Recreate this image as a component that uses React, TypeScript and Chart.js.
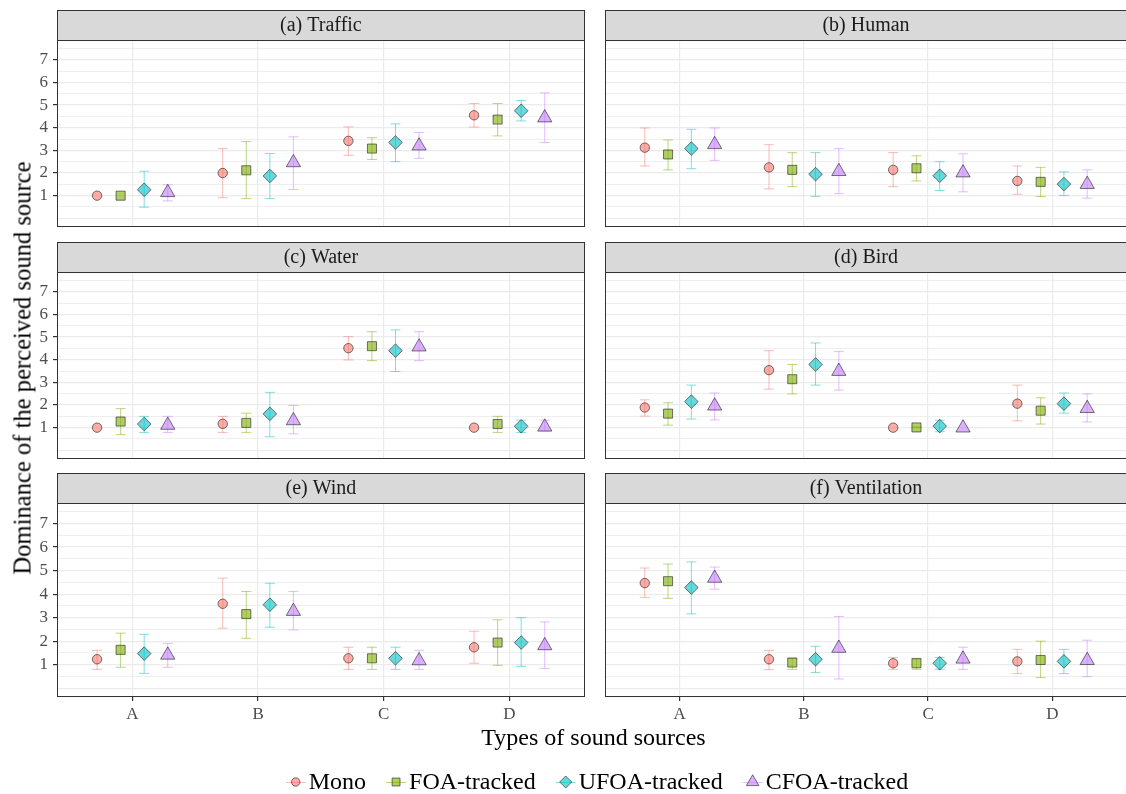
import React, { useEffect, useRef } from "react";
import { Chart, registerables } from "chart.js";
import { drawPoint } from "chart.js/helpers";

Chart.register(...registerables);

// ---------------- data ----------------
const CATEGORIES = ["A", "B", "C", "D"];
const SERIES = ["Mono", "FOA-tracked", "UFOA-tracked", "CFOA-tracked"];
const PANEL_TITLES = ["(a) Traffic", "(b) Human", "(c) Water", "(d) Bird", "(e) Wind", "(f) Ventilation"];
const Y_TICK_LABELS = [1, 2, 3, 4, 5, 6, 7];
const Y_GRID_VALUES = [0, 0.5, 1, 1.5, 2, 2.5, 3, 3.5, 4, 4.5, 5, 5.5, 6, 6.5, 7, 7.5];
const X_TITLE = "Types of sound sources";
const Y_TITLE = "Dominance of the perceived sound source";

// rows = series (Mono, FOA, UFOA, CFOA); columns = categories A..D
const trafficMean = [[1.0, 2.0, 3.42, 4.55], [1.0, 2.12, 3.08, 4.36], [1.26, 1.87, 3.35, 4.75], [1.14, 2.46, 3.2, 4.44]];
const trafficLow = [[1.0, 0.91, 2.78, 4.03], [1.0, 0.87, 2.6, 3.64], [0.49, 0.87, 2.5, 4.3], [0.77, 1.27, 2.65, 3.35]];
const trafficHigh = [[1.0, 3.08, 4.04, 5.07], [1.0, 3.39, 3.56, 5.07], [2.08, 2.86, 4.17, 5.2], [1.48, 3.6, 3.79, 5.54]];

const humanMean = [[3.12, 2.25, 2.14, 1.65], [2.82, 2.14, 2.21, 1.61], [3.08, 1.95, 1.88, 1.51], [3.26, 2.07, 2.01, 1.5]];
const humanLow = [[2.31, 1.3, 1.4, 1.06], [2.14, 1.4, 1.65, 0.96], [2.19, 0.97, 1.23, 1.01], [2.56, 1.09, 1.17, 0.89]];
const humanHigh = [[3.99, 3.25, 2.9, 2.31], [3.46, 2.9, 2.76, 2.25], [3.93, 2.9, 2.5, 2.05], [3.99, 3.08, 2.85, 2.14]];

const waterMean = [[1.0, 1.17, 4.51, 1.0], [1.27, 1.21, 4.6, 1.16], [1.16, 1.61, 4.4, 1.06], [1.11, 1.31, 4.57, 1.03]];
const waterLow = [[1.0, 0.79, 3.99, 1.0], [0.69, 0.79, 3.96, 0.79], [0.79, 0.6, 3.48, 0.79], [0.79, 0.73, 3.96, 0.86]];
const waterHigh = [[1.0, 1.5, 5.02, 1.0], [1.84, 1.64, 5.24, 1.5], [1.5, 2.56, 5.32, 1.33], [1.5, 1.98, 5.24, 1.33]];

const birdMean = [[1.89, 3.54, 1.0, 2.06], [1.62, 3.14, 1.01, 1.75], [2.15, 3.79, 1.07, 2.06], [1.96, 3.49, 0.99, 1.85]];
const birdLow = [[1.51, 2.7, 1.0, 1.3], [1.11, 2.49, 1.0, 1.16], [1.38, 2.88, 0.82, 1.64], [1.34, 2.66, 0.99, 1.25]];
const birdHigh = [[2.23, 4.4, 1.0, 2.88], [2.1, 3.79, 1.03, 2.32], [2.88, 4.74, 1.33, 2.53], [2.53, 4.36, 0.99, 2.49]];

const windMean = [[1.23, 3.59, 1.27, 1.74], [1.63, 3.15, 1.27, 1.94], [1.47, 3.55, 1.27, 1.94], [1.41, 3.27, 1.17, 1.81]];
const windLow = [[0.8, 2.55, 0.8, 1.06], [0.89, 2.12, 0.8, 0.97], [0.63, 2.59, 0.8, 0.93], [0.89, 2.48, 0.8, 0.84]];
const windHigh = [[1.61, 4.68, 1.74, 2.42], [2.34, 4.11, 1.74, 2.91], [2.29, 4.46, 1.74, 3.0], [1.91, 4.11, 1.61, 2.82]];

const ventilationMean = [[4.47, 1.23, 1.06, 1.14], [4.55, 1.09, 1.06, 1.2], [4.28, 1.23, 1.06, 1.14], [4.68, 1.7, 1.24, 1.18]];
const ventilationLow = [[3.86, 0.79, 0.8, 0.62], [3.82, 0.8, 0.8, 0.45], [3.16, 0.67, 0.8, 0.62], [4.21, 0.39, 0.8, 0.49]];
const ventilationHigh = [[5.11, 1.61, 1.31, 1.65], [5.28, 1.27, 1.27, 2.0], [5.37, 1.78, 1.31, 1.65], [5.15, 3.05, 1.74, 2.04]];

const PANELS = [
  { title: PANEL_TITLES[0], mean: trafficMean, low: trafficLow, high: trafficHigh },
  { title: PANEL_TITLES[1], mean: humanMean, low: humanLow, high: humanHigh },
  { title: PANEL_TITLES[2], mean: waterMean, low: waterLow, high: waterHigh },
  { title: PANEL_TITLES[3], mean: birdMean, low: birdLow, high: birdHigh },
  { title: PANEL_TITLES[4], mean: windMean, low: windLow, high: windHigh },
  { title: PANEL_TITLES[5], mean: ventilationMean, low: ventilationLow, high: ventilationHigh },
];

// ---------------- styles ----------------
const FONT = '"Liberation Serif", "Times New Roman", serif';
const COLORS = ["248,118,109", "124,174,0", "0,191,196", "199,124,255"];
const FILL = COLORS.map((c) => `rgba(${c},0.6)`);
const BAR = COLORS.map((c) => `rgba(${c},0.5)`);
const OUTLINE = "rgba(30,30,30,0.6)";
const SHAPES = ["circle", "rect", "rectRot", "triangle"];
const RADII = [4.7, 6.4, 6.8, 8.2];
const LEGEND_RADII = [4.2, 5.6, 6.0, 7.2];
const DODGE_WIDTH = 0.75;
const CAP_WIDTH = 0.08;
const X_MIN = 0.4, X_MAX = 4.6;
const Y_MIN = -0.375, Y_MAX = 7.875;
const GRID = "#EBEBEB";
const FRAME = "#333333";
const STRIP_H = 30;
const PLOT_H = 194;
const ROW_PLOT_TOP = [40, 272, 503];
const COL_PLOT_LEFT = [57, 598];
const PLOT_W = 534;
const PAGE_W = 1126, PAGE_H = 794;

const errorBarPlugin = {
  id: "errorBars",
  beforeDatasetsDraw(chart: any) {
    const { ctx } = chart;
    const xs = chart.scales.x, ys = chart.scales.y;
    ctx.save();
    ctx.lineWidth = 1;
    chart.data.datasets.forEach((ds: any, s: number) => {
      ctx.strokeStyle = BAR[s];
      ds.data.forEach((d: any) => {
        if (d.hi - d.lo < 0.005) return;
        const px = xs.getPixelForValue(d.x);
        const half = xs.getPixelForValue(d.x + CAP_WIDTH / 2) - px;
        const yl = ys.getPixelForValue(d.lo);
        const yh = ys.getPixelForValue(d.hi);
        ctx.beginPath();
        ctx.moveTo(px, yl);
        ctx.lineTo(px, yh);
        ctx.moveTo(px - half, yl);
        ctx.lineTo(px + half, yl);
        ctx.moveTo(px - half, yh);
        ctx.lineTo(px + half, yh);
        ctx.stroke();
      });
    });
    ctx.restore();
  },
};

const framePlugin = {
  id: "frame",
  afterDraw(chart: any, _args: any, opts: any) {
    const { ctx, chartArea: a } = chart;
    ctx.save();
    // strip
    ctx.fillStyle = "#D9D9D9";
    ctx.fillRect(a.left, a.top - STRIP_H, a.right - a.left, STRIP_H);
    ctx.strokeStyle = FRAME;
    ctx.lineWidth = 1;
    ctx.strokeRect(Math.round(a.left) + 0.5, Math.round(a.top - STRIP_H) + 0.5, Math.round(a.right - a.left) - 1, STRIP_H);
    ctx.fillStyle = "#1A1A1A";
    ctx.font = `20px ${FONT}`;
    ctx.textAlign = "center";
    ctx.textBaseline = "middle";
    ctx.fillText(opts.title, (a.left + a.right) / 2, a.top - STRIP_H / 2 + 1);
    // panel border
    ctx.strokeRect(Math.round(a.left) + 0.5, Math.round(a.top) + 0.5, Math.round(a.right - a.left) - 1, Math.round(a.bottom - a.top) - 1);
    ctx.restore();
  },
};

function Panel({ idx }: { idx: number }) {
  const ref = useRef<HTMLCanvasElement>(null);
  const col = idx % 2;
  const row = Math.floor(idx / 2);
  const isLeft = col === 0;
  const isBottom = row === 2;
  const yAxisW = isLeft ? COL_PLOT_LEFT[0] : 0;
  const canvasLeft = isLeft ? 0 : COL_PLOT_LEFT[1] - 2;
  const padLeft = isLeft ? 0 : 2;
  const padRight = isLeft ? 3 : 4;
  const canvasW = yAxisW + padLeft + PLOT_W + padRight;
  const xAxisH = isBottom ? 26 : 0;
  const padTop = STRIP_H + 1;
  const padBottom = 2;
  const canvasTop = ROW_PLOT_TOP[row] - padTop;
  const canvasH = padTop + PLOT_H + xAxisH + padBottom;

  useEffect(() => {
    const p = PANELS[idx];
    const datasets = SERIES.map((name, s) => ({
      label: name,
      data: CATEGORIES.map((_c, i) => ({
        x: i + 1 + (s - (SERIES.length - 1) / 2) * (DODGE_WIDTH / SERIES.length),
        y: p.mean[s][i],
        lo: p.low[s][i],
        hi: p.high[s][i],
      })),
      pointStyle: SHAPES[s],
      pointRadius: RADII[s],
      backgroundColor: FILL[s],
      borderColor: OUTLINE,
      borderWidth: 1,
      showLine: false,
    }));
    const tickFont = { family: FONT, size: 17 };
    const chart = new Chart(ref.current as HTMLCanvasElement, {
      type: "scatter",
      data: { datasets } as any,
      options: {
        animation: false,
        responsive: false,
        maintainAspectRatio: false,
        devicePixelRatio: 1,
        events: [],
        layout: { padding: { top: padTop, bottom: padBottom, left: padLeft, right: padRight } },
        plugins: {
          legend: { display: false },
          tooltip: { enabled: false },
          frame: { title: p.title },
        } as any,
        scales: {
          x: {
            type: "linear",
            min: X_MIN,
            max: X_MAX,
            afterBuildTicks: (s: any) => {
              s.ticks = CATEGORIES.map((_c, i) => ({ value: i + 1 }));
            },
            afterFit: (s: any) => {
              s.height = xAxisH;
              s.paddingLeft = 0;
              s.paddingRight = 0;
            },
            ticks: {
              display: isBottom,
              autoSkip: false,
              maxRotation: 0,
              padding: 3,
              color: "#4D4D4D",
              font: tickFont,
              callback: (v: any) => CATEGORIES[Math.round(v) - 1] ?? "",
            },
            grid: {
              color: GRID,
              lineWidth: 1.2,
              drawTicks: isBottom,
              tickLength: 4,
              tickColor: FRAME,
            },
            border: { display: false },
          },
          y: {
            type: "linear",
            min: Y_MIN,
            max: Y_MAX,
            afterBuildTicks: (s: any) => {
              s.ticks = Y_GRID_VALUES.map((v) => ({ value: v }));
            },
            afterFit: (s: any) => {
              s.width = yAxisW;
              s.paddingTop = 0;
              s.paddingBottom = 0;
            },
            ticks: {
              display: isLeft,
              autoSkip: false,
              padding: 5,
              color: "#4D4D4D",
              font: tickFont,
              callback: (v: any) => (Y_TICK_LABELS.includes(v) ? String(v) : ""),
            },
            grid: {
              color: GRID,
              lineWidth: (c: any) => (Number.isInteger(c.tick?.value) ? 1.2 : 0.8),
              drawTicks: isLeft,
              tickLength: 4,
              tickColor: (c: any) => (Y_TICK_LABELS.includes(c.tick?.value) ? FRAME : "rgba(0,0,0,0)"),
            },
            border: { display: false },
          },
        },
      } as any,
      plugins: [errorBarPlugin, framePlugin],
    });
    return () => chart.destroy();
  }, [idx]);

  return (
    <canvas
      ref={ref}
      width={canvasW}
      height={canvasH}
      style={{ position: "absolute", left: canvasLeft, top: canvasTop, width: canvasW, height: canvasH }}
    />
  );
}

const legendPlugin = {
  id: "legendDraw",
  afterDraw(chart: any) {
    const ctx = chart.ctx;
    ctx.save();
    ctx.font = `24px ${FONT}`;
    const widths = SERIES.map((s) => ctx.measureText(s).width);
    const KEY = 20, GAP = 3, ITEM_GAP = 20;
    const total = widths.reduce((a, w) => a + KEY + GAP + w, 0) + ITEM_GAP * (SERIES.length - 1);
    let x = 597 - total / 2;
    const y = chart.height / 2;
    SERIES.forEach((name, s) => {
      ctx.strokeStyle = BAR[s];
      ctx.lineWidth = 1;
      ctx.beginPath();
      ctx.moveTo(x, Math.round(y) + 0.5);
      ctx.lineTo(x + KEY, Math.round(y) + 0.5);
      ctx.stroke();
      ctx.fillStyle = FILL[s];
      ctx.strokeStyle = OUTLINE;
      drawPoint(ctx, { pointStyle: SHAPES[s] as any, radius: LEGEND_RADII[s], rotation: 0, borderWidth: 1 }, x + KEY / 2, y);
      x += KEY + GAP;
      ctx.fillStyle = "#000";
      ctx.textAlign = "left";
      ctx.textBaseline = "middle";
      ctx.fillText(name, x, y + 1);
      x += widths[s] + ITEM_GAP;
    });
    ctx.restore();
  },
};

function Legend() {
  const ref = useRef<HTMLCanvasElement>(null);
  useEffect(() => {
    const chart = new Chart(ref.current as HTMLCanvasElement, {
      type: "scatter",
      data: { datasets: [] },
      options: {
        animation: false,
        responsive: false,
        maintainAspectRatio: false,
        devicePixelRatio: 1,
        events: [],
        plugins: { legend: { display: false }, tooltip: { enabled: false } },
        scales: { x: { display: false }, y: { display: false } },
      } as any,
      plugins: [legendPlugin],
    });
    return () => chart.destroy();
  }, []);
  return (
    <canvas ref={ref} width={PAGE_W} height={50} style={{ position: "absolute", left: 0, top: 757, width: PAGE_W, height: 50 }} />
  );
}

export default function App() {
  return (
    <div
      style={{
        position: "fixed",
        left: 0,
        top: 0,
        width: PAGE_W,
        height: PAGE_H,
        background: "#fff",
        overflow: "hidden",
        fontFamily: FONT,
      }}
    >
      {PANELS.map((_p, i) => (
        <Panel key={i} idx={i} />
      ))}
      <div
        style={{
          position: "absolute",
          left: 593.5,
          top: 737,
          transform: "translate(-50%, -50%)",
          fontSize: 24,
          lineHeight: "24px",
          whiteSpace: "nowrap",
          color: "#000",
        }}
      >
        {X_TITLE}
      </div>
      <div
        style={{
          position: "absolute",
          left: 22,
          top: 368,
          transform: "translate(-50%, -50%) rotate(-90deg)",
          fontSize: 24.6,
          lineHeight: "25px",
          whiteSpace: "nowrap",
          color: "#000",
        }}
      >
        {Y_TITLE}
      </div>
      <Legend />
    </div>
  );
}
